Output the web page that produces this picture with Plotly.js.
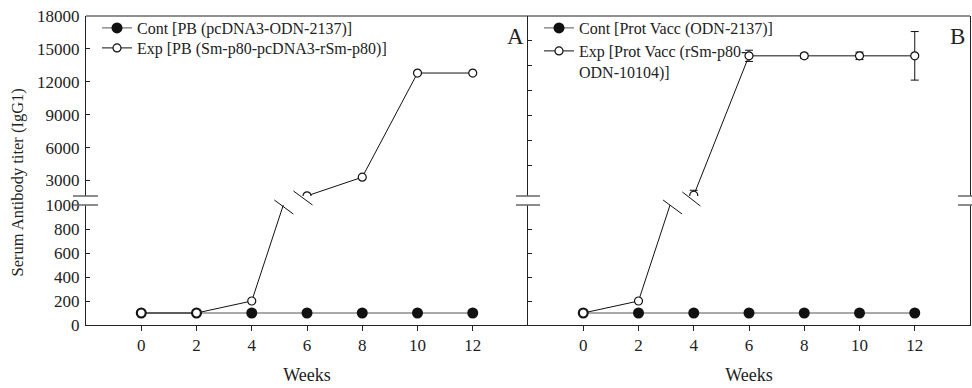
<!DOCTYPE html>
<html>
<head>
<meta charset="utf-8">
<script src="https://cdn.plot.ly/plotly-3.0.1.min.js"></script>
<style>html,body{margin:0;padding:0;background:#fff;}#chart{width:972px;height:388px;}</style>
</head>
<body>
<div id="chart"></div>
<script>
// ---- data ----
const weeks = [0, 2, 4, 6, 8, 10, 12];
const contA = [100, 100, 100, 100, 100, 100, 100];
const expA  = [100, 100, 200, 1600, 3300, 12800, 12800];
const contB = [100, 100, 100, 100, 100, 100, 100];
const expB  = [100, 200, 1600, 12800, 12800, 12800, 12800];
const expBErr = [0, 0, 400, 450, 200, 300, 1950];

const nameContA = 'Cont [PB (pcDNA3-ODN-2137)]';
const nameExpA  = 'Exp [PB (Sm-p80-pcDNA3-rSm-p80)]';
const nameContB = 'Cont [Prot Vacc (ODN-2137)]';
const nameExpB  = 'Exp [Prot Vacc (rSm-p80-<br>ODN-10104)]';

const xTicks = [0, 2, 4, 6, 8, 10, 12];
const lowTicks = [0, 200, 400, 600, 800, 1000];
const upTicksA = [3000, 6000, 9000, 12000, 15000, 18000];
const upTicksB = [4000, 6000, 8000, 10000, 12000, 14000, 16000];

// ---- layout constants ----
const FONT = 'Liberation Serif, Times New Roman, serif';
const lowTop = 1000;
const upLoA = 1587, upHiA = 18000;
const upLoB = 1540, upHiB = 16000;
const lowDom = [0, 120 / 309];
const upDom = [129 / 309, 1];

function contTrace(y, xa, ya, name, legend, show) {
  return {x: weeks, y: y, xaxis: xa, yaxis: ya, name: name, legend: legend,
    showlegend: show, mode: 'lines+markers', cliponaxis: true,
    line: {color: '#555', width: 1},
    marker: {symbol: 'circle', size: 11, color: '#111', line: {width: 0}}};
}
function expTrace(y, xa, ya, name, legend, show, err) {
  const t = {x: weeks, y: y, xaxis: xa, yaxis: ya, name: name, legend: legend,
    showlegend: show, mode: 'lines+markers', cliponaxis: true,
    line: {color: '#111', width: 1},
    marker: {symbol: 'circle', size: 8, color: '#fff', line: {color: '#111', width: 1.2}}};
  if (err) t.error_y = {type: 'data', array: err, visible: true, color: '#111', thickness: 1, width: 4};
  return t;
}

const data = [
  contTrace(contA, 'x', 'y', nameContA, 'legend', true),
  contTrace(contA, 'x', 'y2', nameContA, 'legend', false),
  expTrace(expA, 'x', 'y', nameExpA, 'legend2', true),
  expTrace(expA, 'x', 'y2', nameExpA, 'legend2', false),
  contTrace(contB, 'x2', 'y3', nameContB, 'legend3', true),
  contTrace(contB, 'x2', 'y4', nameContB, 'legend3', false),
  expTrace(expB, 'x2', 'y3', nameExpB, 'legend4', true, expBErr),
  expTrace(expB, 'x2', 'y4', nameExpB, 'legend4', false, expBErr)
];

// break slashes on the data lines, x computed from the data
function crossX(vals, level) {
  for (let i = 0; i < vals.length - 1; i++) {
    if (vals[i] <= level && vals[i + 1] > level) {
      return weeks[i] + (level - vals[i]) / (vals[i + 1] - vals[i]) * (weeks[i + 1] - weeks[i]);
    }
  }
  return null;
}
function slash(xref, xc, yPaper, dx0, dx1, dy0, dy1) {
  return {type: 'line', xref: xref, yref: 'paper', xsizemode: 'pixel', ysizemode: 'pixel',
    xanchor: xc, yanchor: yPaper, x0: dx0, x1: dx1, y0: dy0, y1: dy1,
    line: {color: '#111', width: 1}};
}
const shapes = [];
shapes.push(slash('x', crossX(expA, lowTop), lowDom[1], -9, 10, 5, -9));
shapes.push(slash('x', crossX(expA, upLoA), upDom[0], -13, 6, 5, -9));
shapes.push(slash('x2', crossX(expB, lowTop), lowDom[1], -7, 12, 5, -9));
shapes.push(slash('x2', crossX(expB, upLoB), upDom[0], -9, 9, 4, -10));

// frame top line
shapes.push({type: 'line', xref: 'paper', yref: 'paper', x0: 0, x1: 1, y0: 1, y1: 1,
  line: {color: '#222', width: 1}});
// axis break marks
[[0, -13, 12], [0.5, -12, 12], [1, -12, 12]].forEach(function (b) {
  [lowDom[1], upDom[0]].forEach(function (yy) {
    shapes.push({type: 'line', xref: 'paper', yref: 'paper', xsizemode: 'pixel',
      xanchor: b[0], x0: b[1], x1: b[2], y0: yy, y1: yy,
      line: {color: '#666', width: 1.5}});
  });
});

const tickFont = {family: FONT, size: 17, color: '#222'};
const baseY = {showline: true, linecolor: '#222', linewidth: 1, ticks: 'inside', ticklen: 4,
  tickcolor: '#222', tickwidth: 1, showgrid: false, zeroline: false,
  tickfont: tickFont, ticklabelstandoff: 2};
const baseX = {showline: true, linecolor: '#222', linewidth: 1, ticks: 'outside', ticklen: 5,
  tickcolor: '#222', showgrid: false, zeroline: false, range: [-2, 14],
  tickmode: 'array', tickvals: xTicks, ticktext: xTicks.map(String), tickfont: tickFont,
  title: {text: 'Weeks', font: {family: FONT, size: 18, color: '#222'}, standoff: 13}};

const legFont = {family: FONT, size: 16, color: '#222'};
function leg(xpx, ypx, anchor) {
  return {x: xpx / 884, xanchor: 'left', y: 1 - ypx / 309, yanchor: anchor,
    bgcolor: 'rgba(0,0,0,0)', font: legFont, valign: 'top'};
}

const layout = {
  width: 972, height: 388,
  margin: {l: 86, r: 2, t: 16, b: 63},
  paper_bgcolor: '#fff', plot_bgcolor: 'rgba(0,0,0,0)',
  font: {family: FONT, color: '#222'},
  xaxis: Object.assign({}, baseX, {domain: [0, 0.5], anchor: 'y'}),
  xaxis2: Object.assign({}, baseX, {domain: [0.5, 1], anchor: 'y3'}),
  yaxis: Object.assign({}, baseY, {domain: lowDom, anchor: 'x', range: [0, lowTop],
    tickmode: 'array', tickvals: lowTicks, ticktext: lowTicks.map(String)}),
  yaxis2: Object.assign({}, baseY, {domain: upDom, anchor: 'x', range: [upLoA, upHiA],
    tickmode: 'array', tickvals: upTicksA, ticktext: upTicksA.map(String)}),
  yaxis3: Object.assign({}, baseY, {domain: lowDom, anchor: 'x2', range: [0, lowTop], mirror: true,
    tickmode: 'array', tickvals: lowTicks, showticklabels: false}),
  yaxis4: Object.assign({}, baseY, {domain: upDom, anchor: 'x2', range: [upLoB, upHiB], mirror: true,
    tickmode: 'array', tickvals: upTicksB, showticklabels: false}),
  legend: leg(11, 12, 'middle'),
  legend2: leg(11, 32, 'middle'),
  legend3: leg(453, 12, 'middle'),
  legend4: leg(453, 18, 'top'),
  shapes: shapes,
  annotations: [
    {text: 'Serum Antibody titer (IgG1)', xref: 'paper', yref: 'paper', x: -69 / 884, y: 0.5 - 12 / 309,
      textangle: -90, showarrow: false, xanchor: 'center', yanchor: 'middle',
      font: {family: FONT, size: 16.5, color: '#222'}},
    {text: 'A', xref: 'paper', yref: 'paper', x: 429 / 884, y: 1 - 21 / 309, showarrow: false,
      xanchor: 'center', yanchor: 'middle', font: {family: FONT, size: 23, color: '#222'}},
    {text: 'B', xref: 'paper', yref: 'paper', x: 871 / 884, y: 1 - 21 / 309, showarrow: false,
      xanchor: 'center', yanchor: 'middle', font: {family: FONT, size: 23, color: '#222'}}
  ]
};

Plotly.newPlot('chart', data, layout, {displayModeBar: false, staticPlot: true});
</script>
</body>
</html>
